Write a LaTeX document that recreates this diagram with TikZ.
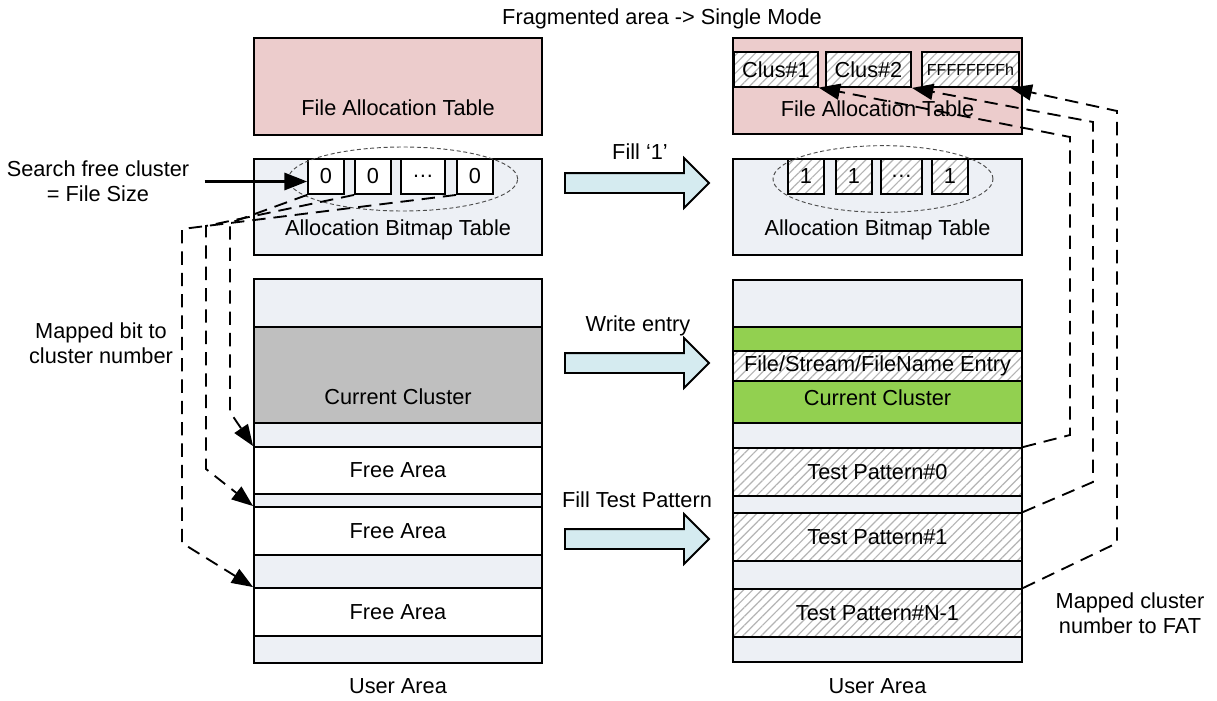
\documentclass[tikz,border=0pt]{standalone}
\usepackage{fontspec}
\setmainfont{Liberation Sans}
\usetikzlibrary{arrows.meta, patterns.meta, shapes.arrows, positioning}

\definecolor{fatpink}{RGB}{236,204,204}
\definecolor{areabg}{RGB}{237,240,245}
\definecolor{curgray}{RGB}{191,191,191}
\definecolor{curgreen}{RGB}{146,208,80}
\definecolor{flowblue}{RGB}{213,235,240}
\definecolor{hatchgray}{RGB}{180,180,180}

\tikzset{
  cell/.style={draw, line width=1.4pt, inner sep=0pt},
  ht/.style={minimum height=(#1)*0.75pt},
  wd/.style={minimum width=(#1)*0.75pt},
  bgcell/.style={cell, fill=areabg},
  freecell/.style={cell, fill=white},
  curcell/.style={cell, fill=curgray},
  greencell/.style={cell, fill=curgreen},
  fatcell/.style={cell, fill=fatpink},
  hatchcell/.style={cell, preaction={fill=white},
    pattern={Lines[angle=45, distance=4.8pt, line width=0.9pt]}, pattern color=hatchgray},
  flow/.style={single arrow, draw, fill=flowblue, line width=1.4pt,
    inner xsep=0pt, inner ysep=9*0.75pt,
    minimum height=144*0.75pt, single arrow head extend=15*0.75pt},
  maplink/.style={line width=1.4pt, dash pattern=on 10pt off 6pt,
    -{Triangle[length=16pt, width=12pt]}},
  selring/.style={densely dashed, line width=0.7pt, draw=black!70}
}

\begin{document}
\begin{tikzpicture}[x=0.75pt, y=-0.75pt, font=\fontsize{16.3}{19}\selectfont]
  \useasboundingbox (0,0) rectangle (1217,700);

  \node (title) at (662,19) {Fragmented area -> Single Mode};

  % left side
  \node[fatcell, wd=288, ht=97] (fatL) at (398,86.5) {};
  \node (fatLtxt) at (398,108) {File Allocation Table};
  \node[bgcell, wd=288, ht=96] (abtL) at (398,207) {};
  \node (abtLtxt) at (398,230) {Allocation Bitmap Table};
  \foreach \nm/\xa/\xb/\tx in {b0/308/344/0, b1/355/391/0, bd/401/445/\ldots, bn/457/493/0}
    \node[freecell, wd={\xb-\xa}, ht=35] (\nm) at ({(\xa+\xb)/2},176.5) {\tx};
  \draw[selring] (403,179) ellipse [x radius=86pt, y radius=24pt];

  \foreach \nm/\ya/\yb/\st/\tx in {uLa/279/327/bgcell/{}, curL/327/423/curcell/{},
      uLb/423/447/bgcell/{}, frA/447/494/freecell/Free Area, uLc/494/507/bgcell/{},
      frB/507/555/freecell/Free Area, uLd/555/588/bgcell/{},
      frC/588/636/freecell/Free Area, uLe/636/663/bgcell/{}}
    \node[\st, wd=288, ht={\yb-\ya}] (\nm) at (398,{(\ya+\yb)/2}) {\tx};
  \node (curLtxt) at (398,397) {Current Cluster};
  \node (userL) at (398,686) {User Area};

  \node[align=center] (srch) at (98,181.5) {Search free cluster\\= File Size};
  \node[align=center] (mapbit) at (101,343.5) {Mapped bit to\\cluster number};

  % flow arrows
  \node[flow] (fill1) at (632,183) {};
  \node (fill1txt) at (640,152) {Fill ‘1’};
  \node[flow] (wrent) at (632,363) {};
  \node (wrenttxt) at (638,326) {Write entry};
  \node[flow] (filltp) at (632,539) {};
  \node (filltptxt) at (637,500) {Fill Test Pattern};

  % right side
  \node[fatcell, wd=289, ht=96] (fatR) at (877.5,86) {};
  \foreach \nm/\xa/\xb/\tx in {c1/734/818/Clus\#1, c2/826/911/Clus\#2,
      c3/922/1019/{\fontsize{12}{14}\selectfont FFFFFFFFh}}
    \node[hatchcell, wd={\xb-\xa}, ht=35] (\nm) at ({(\xa+\xb)/2},69.5) {\tx};
  \node (fatRtxt) at (877.5,109) {File Allocation Table};
  \node[bgcell, wd=289, ht=96] (abtR) at (877.5,207) {};
  \node (abtRtxt) at (877.5,230) {Allocation Bitmap Table};
  \foreach \nm/\xa/\xb/\tx in {d0/788/824/1, d1/836/872/1, dd/881/922/\ldots, dn/932/968/1}
    \node[hatchcell, wd={\xb-\xa}, ht=35] (\nm) at ({(\xa+\xb)/2},176.5) {\tx};
  \draw[selring] (883,179) ellipse [x radius=82.5pt, y radius=25pt];

  \foreach \nm/\ya/\yb/\st/\tx in {uRa/280/327/bgcell/{}, grA/327/351/greencell/{},
      ent/351/381/hatchcell/{}, curR/381/423/greencell/{},
      uRb/423/448/bgcell/{}, tp0/448/496/hatchcell/Test Pattern\#0,
      uRc/496/513/bgcell/{}, tp1/513/561/hatchcell/Test Pattern\#1,
      uRd/561/589/bgcell/{}, tpn/589/637/hatchcell/Test Pattern\#N-1,
      uRe/637/662/bgcell/{}}
    \node[\st, wd=289, ht={\yb-\ya}] (\nm) at (877.5,{(\ya+\yb)/2}) {\tx};
  \node (enttxt) at (ent) {File/Stream/FileName Entry};
  \node (curRtxt) at (877.5,398) {Current Cluster};
  \node (userR) at (877.5,686) {User Area};
  \node[align=center] (mapfat) at (1130,613.5) {Mapped cluster\\number to FAT};

  % links
  \draw[line width=1.6pt, -{Triangle[length=17pt, width=13pt]}, shorten <=8pt]
    (srch.east) -- (srch.east -| b0.west);
  \draw[maplink] (b0.south west) -- (230,223) -- (230,412) -- (frA.north west);
  \draw[maplink] (b1.south west) -- (206,226) -- (206,469) -- (frB.north west);
  \draw[maplink] (bn.south west) -- (182,229) -- (182,543) -- (frC.north west);

  \draw[maplink] (tp0.north east) -- (1070,435) -- (1070,137) -- (c1.south east);
  \draw[maplink] (tp1.north east) -- (1093,482) -- (1093,122) -- (c2.south east);
  \draw[maplink] (tpn.north east) -- (1117,543) -- (1117,111) -- ([xshift=-7pt]c3.south east);
\end{tikzpicture}
\end{document}
